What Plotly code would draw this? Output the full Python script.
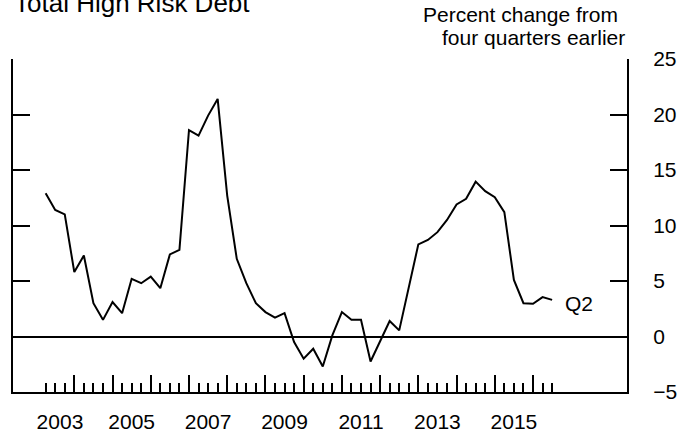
import plotly.graph_objects as go

# ---------------- data ----------------
quarters = [f"{y}Q{q}" for y in range(2003, 2017) for q in range(1, 5)][:54]  # 2003Q1 .. 2016Q2
values = [12.9, 11.4, 11.0, 5.8, 7.3, 3.0, 1.5, 3.1, 2.1, 5.2,
          4.8, 5.4, 4.35, 7.4, 7.8, 18.6, 18.1, 19.9, 21.4, 12.7,
          7.0, 4.8, 3.0, 2.2, 1.7, 2.1, -0.5, -2.0, -1.1, -2.7,
          0.1, 2.2, 1.5, 1.5, -2.25, -0.4, 1.4, 0.55, 4.5, 8.3,
          8.7, 9.4, 10.5, 11.9, 12.4, 13.95, 13.1, 12.55, 11.2, 5.1,
          3.0, 2.95, 3.55, 3.3]
label_years = [2003, 2005, 2007, 2009, 2011, 2013, 2015]
y_tickvals = [-5, 0, 5, 10, 15, 20, 25]
y_ticktext = ["\u22125", "0", "5", "10", "15", "20", "25"]
last_label = "Q2"

# ---------------- derived positions ----------------
qx = [int(q[:4]) + int(q[-1]) / 4 for q in quarters]  # quarter-end positions
year_ticks = sorted({v for v in qx if float(v).is_integer()})
label_x = [(max(y, qx[0]) + y + 1) / 2 for y in label_years]

XR = [2002.396, 2018.459]
YR = [-5, 25]
FONT = "Liberation Sans, Arial, Helvetica, sans-serif"
W, H = 691, 434
ML, MR, MT, MB = 13, 64, 59, 42
PH = H - MT - MB
PW = W - ML - MR

fig = go.Figure()
fig.add_trace(go.Scatter(x=qx, y=values, mode="lines",
                         line=dict(color="black", width=2),
                         showlegend=False, hoverinfo="x+y"))
# helper empty traces to register the overlay axes
fig.add_trace(go.Scatter(x=[], y=[], xaxis="x2", yaxis="y2", showlegend=False, hoverinfo="skip"))
fig.add_trace(go.Scatter(x=[], y=[], xaxis="x", yaxis="y3", showlegend=False, hoverinfo="skip"))

fig.update_layout(
    width=W, height=H,
    margin=dict(l=ML, r=MR, t=MT, b=MB, pad=0, autoexpand=False),
    paper_bgcolor="white", plot_bgcolor="white",
    font=dict(family=FONT, color="black", size=21),
    xaxis=dict(range=XR, autorange=False, showgrid=False, zeroline=False, automargin=False,
               showline=True, linecolor="black", linewidth=2,
               ticks="inside", tickvals=year_ticks, ticklen=17, tickwidth=1.5,
               tickcolor="black", showticklabels=False,
               minor=dict(tickvals=qx, ticks="inside", ticklen=9, tickwidth=1.5,
                          tickcolor="black", showgrid=False)),
    xaxis2=dict(range=XR, autorange=False, overlaying="x", anchor="y", side="bottom",
                automargin=False,
                showgrid=False, zeroline=False, showline=False, ticks="",
                tickvals=label_x, ticktext=[str(y) for y in label_years],
                tickfont=dict(size=21), ticklabelstandoff=15),
    yaxis=dict(range=YR, autorange=False, side="left", showgrid=False, automargin=False,
               zeroline=True, zerolinecolor="black", zerolinewidth=2,
               showline=True, linecolor="black", linewidth=2,
               ticks="inside", tickvals=y_tickvals[:-1], ticklen=17, tickwidth=1.5,
               tickcolor="black", showticklabels=False,
               minor=dict(tickvals=[y_tickvals[-1]], ticks="inside", ticklen=33,
                          tickwidth=2, tickcolor="black", showgrid=False)),
    yaxis2=dict(range=YR, autorange=False, overlaying="y", anchor="x", side="right",
                automargin=False,
                showgrid=False, zeroline=False,
                showline=True, linecolor="black", linewidth=2,
                ticks="inside", tickvals=y_tickvals, ticktext=y_ticktext,
                ticklen=17, tickwidth=1.5, tickcolor="black",
                tickfont=dict(size=21), ticklabelstandoff=20),
    yaxis3=dict(range=YR, autorange=False, overlaying="y", anchor="x", side="right",
                automargin=False,
                showgrid=False, zeroline=False, showline=False,
                ticks="inside", tickvals=[y_tickvals[-1]], ticklen=33, tickwidth=2,
                tickcolor="black", showticklabels=False),
    annotations=[
        dict(text="Total High Risk Debt", xref="paper", yref="paper",
             x=(12 - ML) / PW, y=1 + (MT - 20) / PH,
             xanchor="left", yanchor="bottom", showarrow=False,
             font=dict(size=26, family=FONT, color="black")),
        dict(text="Percent change from", xref="paper", yref="paper",
             x=1 - 7 / PW, y=1 + (MT - 28.5) / PH,
             xanchor="right", yanchor="bottom", showarrow=False,
             font=dict(size=21, family=FONT, color="black")),
        dict(text="four quarters earlier", xref="paper", yref="paper",
             x=1, y=1 + (MT - 51.5) / PH,
             xanchor="right", yanchor="bottom", showarrow=False,
             font=dict(size=21, family=FONT, color="black")),
        dict(text=last_label, x=qx[-1], y=values[-1], xref="x", yref="y",
             xanchor="left", yanchor="middle", xshift=11, yshift=-4, showarrow=False,
             font=dict(size=21, family=FONT, color="black")),
    ],
)

fig.write_html("out.html", config={"displayModeBar": False},
               post_script="document.body.style.margin='0';")
